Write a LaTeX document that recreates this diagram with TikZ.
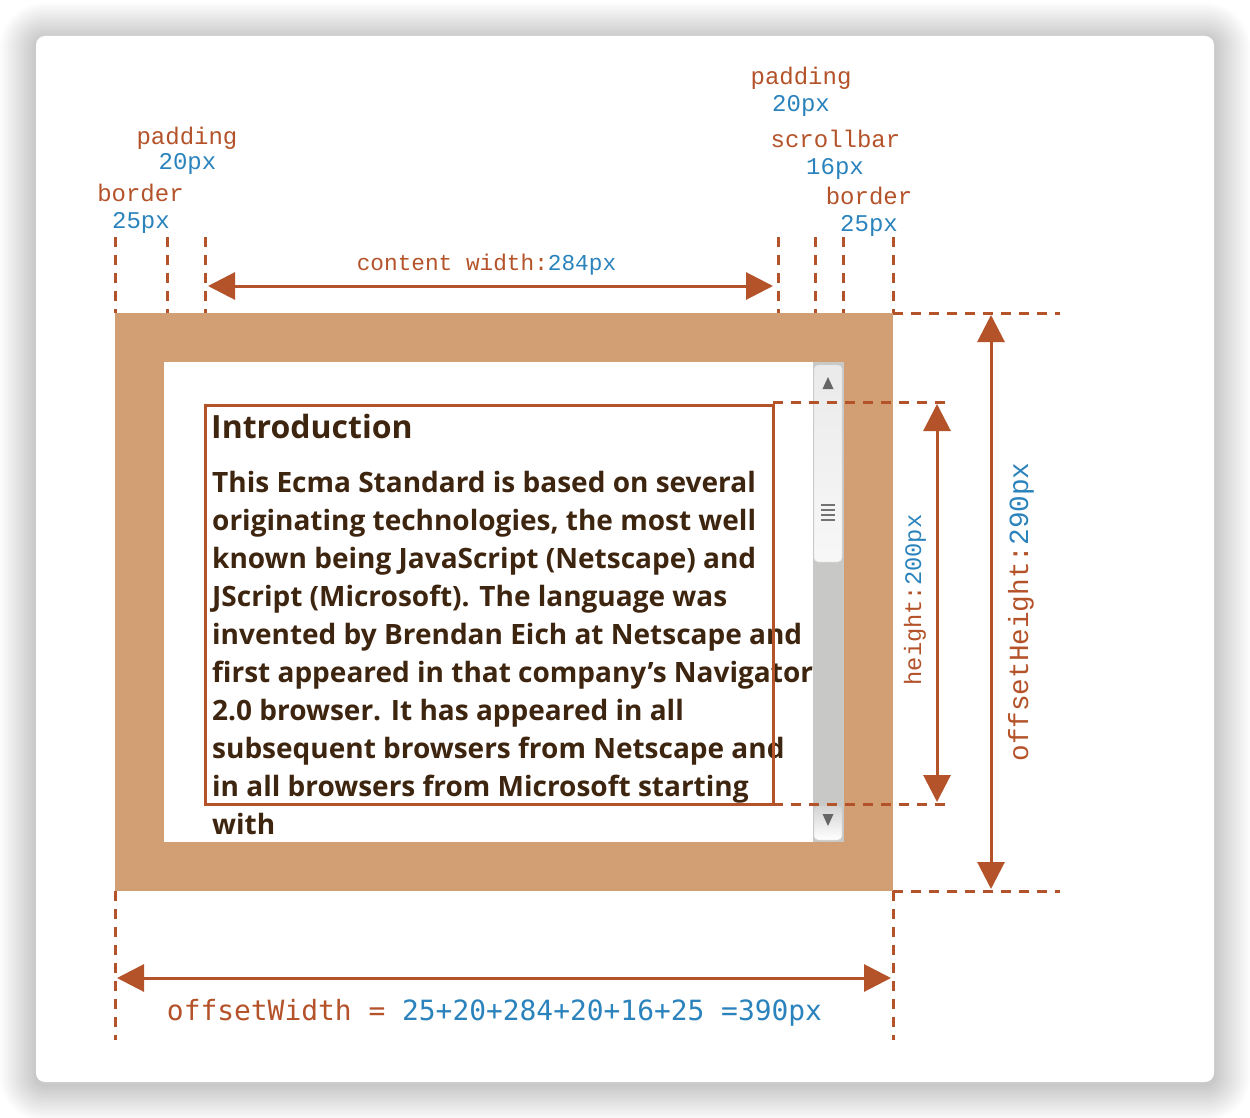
\documentclass[tikz,border=0pt]{standalone}
\usepackage{fontspec}
\usetikzlibrary{arrows.meta}
\newfontfamily\labfont{Liberation Mono}
\newfontfamily\sansmono{DejaVu Sans Mono}
\newfontfamily\bodyfont{Open Sans}
\definecolor{rust}{HTML}{B4532A}
\definecolor{cblue}{HTML}{2A83BC}
\definecolor{tanb}{HTML}{D29E73}
\definecolor{ink}{HTML}{3E2510}
\definecolor{track}{HTML}{C8C8C6}
\tikzset{
  guide/.style={draw=rust, line width=3pt, dash pattern=on 10pt off 8pt},
  dimarrow/.style={draw=rust, line width=3pt,
    {Triangle[length=27pt,width=27pt]}-{Triangle[length=27pt,width=27pt]}},
  lab/.style={inner sep=0pt, anchor=base, font=\labfont\fontsize{24}{24}\selectfont},
  body/.style={inner sep=0pt, anchor=base west, text=ink,
    font=\bodyfont\bfseries\fontsize{28}{38}\selectfont},
}
\begin{document}
\begin{tikzpicture}[x=1pt,y=-1pt]
\useasboundingbox (0,0) rectangle (1250,1118);
\fill[white] (0,0) rectangle (1250,1118);
% shadow
\foreach \i [evaluate=\i as \r using 9+2*\i, evaluate=\i as \d using 2*\i] in {1,...,18}
  \fill[black, fill opacity=0.013, rounded corners=\r pt] (36-\d,36-\d+3) rectangle (1214+\d,1082+\d+3);
% card
\fill[white, rounded corners=9pt] (36,36) rectangle (1214,1082);

% box geometry
\coordinate (bTL) at (115,313); \coordinate (bBR) at (893,891);
\coordinate (pTL) at (164,362); \coordinate (pBR) at (844,842);
\coordinate (cTL) at (205,405); \coordinate (cBR) at (773,804);
\fill[tanb] (bTL) rectangle (bBR);
\fill[white] (pTL) rectangle (pBR);

% scrollbar
\fill[track] (813,362) rectangle (844,842);
\shade[rounded corners=4pt, top color=black!8, middle color=black!20, bottom color=black!3, draw=black!15] (814,365) rectangle (842,562);
\fill[black!60] (822.5,389) -- (833.5,389) -- (828,377) -- cycle;
\foreach \yy in {505,510,515,520} \draw[black!55, line width=2.6pt] (821,\yy) -- (835,\yy);
\shade[rounded corners=4pt, top color=black!17, bottom color=white, draw=black!18] (814,806) rectangle (842,840);
\fill[black!60] (822.5,814) -- (833.5,814) -- (828,826) -- cycle;

% body text
\node[body, font=\bodyfont\bfseries\fontsize{32}{38}\selectfont] (t0) at (211,438) {Introduction};
\node[body] (t1) at (212,492) {This Ecma Standard is based on several};
\node[body] (t2) at (212,530) {originating technologies, the most well};
\node[body] (t3) at (212,568) {known being JavaScript (Netscape) and};
\node[body] (t4) at (212,606) {JScript (Microsoft). The language was};
\node[body] (t5) at (212,644) {invented by Brendan Eich at Netscape and};
\node[body] (t6) at (212,682) {first appeared in that company’s Navigator};
\node[body] (t7) at (212,720) {2.0 browser. It has appeared in all};
\node[body] (t8) at (212,758) {subsequent browsers from Netscape and};
\node[body] (t9) at (212,796) {in all browsers from Microsoft starting};
\node[body] (t10) at (212,834) {with};

% content box
\draw[rust, line width=3pt] (cTL) rectangle (cBR);

% top guides
\foreach \x/\n in {115/a,167/b,205/c,778/d,815/e,843/f,893/g}{
  \coordinate (g\n t) at (\x,237); \coordinate (g\n b) at (\x,313);
  \draw[guide] (g\n t) -- (g\n b);
}
% right guides
\coordinate (hA1) at (893,313); \coordinate (hA2) at (1060,313);
\coordinate (hB1) at (893,891); \coordinate (hB2) at (1060,891);
\coordinate (hC1) at (773,402); \coordinate (hC2) at (946,402);
\coordinate (hD1) at (773,804); \coordinate (hD2) at (946,804);
\draw[guide] (hA1) -- (hA2);
\draw[guide] (hB1) -- (hB2);
\draw[guide] (hC1) -- (hC2);
\draw[guide] (hD1) -- (hD2);
% bottom guides
\coordinate (vL1) at (115,891); \coordinate (vL2) at (115,1040);
\coordinate (vR1) at (893,891); \coordinate (vR2) at (893,1040);
\draw[guide] (vL1) -- (vL2);
\draw[guide] (vR1) -- (vR2);

% dimension arrows
\coordinate (cwL) at (208,286); \coordinate (cwR) at (773,286);
\draw[dimarrow] (cwL) -- (cwR);
\coordinate (hT) at (937,404); \coordinate (hB) at (937,802);
\draw[dimarrow] (hT) -- (hB);
\coordinate (ohT) at (991,315); \coordinate (ohB) at (991,889);
\draw[dimarrow] (ohT) -- (ohB);
\coordinate (owL) at (117,978); \coordinate (owR) at (891,978);
\draw[dimarrow] (owL) -- (owR);

% labels top-left
\node[lab, text=rust] (lpad) at (187,145) {padding};
\node[lab, text=cblue] (lpadv) at (187.5,170) {20px};
\node[lab, text=rust] (lbor) at (140.5,202) {border};
\node[lab, text=cblue] (lborv) at (141,229) {25px};
% labels top-right
\node[lab, text=rust] (rpad) at (801,85) {padding};
\node[lab, text=cblue] (rpadv) at (801,112) {20px};
\node[lab, text=rust] (rscr) at (835.5,148) {scrollbar};
\node[lab, text=cblue] (rscrv) at (835,175) {16px};
\node[lab, text=rust] (rbor) at (869,205) {border};
\node[lab, text=cblue] (rborv) at (869,232) {25px};
% content width
\node[lab, font=\labfont\fontsize{22.75}{24}\selectfont] (cw) at (486.5,270)
  {\textcolor{rust}{content width:}\textcolor{cblue}{284px}};
% height
\node[inner sep=0pt, rotate=90, font=\labfont\fontsize{23.7}{24}\selectfont] (hl) at (915,600)
  {\textcolor{rust}{height:}\textcolor{cblue}{200px}};
% offsetHeight
\node[inner sep=0pt, rotate=90, font=\labfont\fontsize{27.7}{28}\selectfont] (ohl) at (1021,612)
  {\textcolor{rust}{offsetHeight:}\textcolor{cblue}{290px}};
% offsetWidth
\node[inner sep=0pt, anchor=base, font=\sansmono\fontsize{27.9}{28}\selectfont] (owl) at (494.5,1020)
  {\textcolor{rust}{offsetWidth =} \textcolor{cblue}{25+20+284+20+16+25 =390px}};
\end{tikzpicture}
\end{document}
